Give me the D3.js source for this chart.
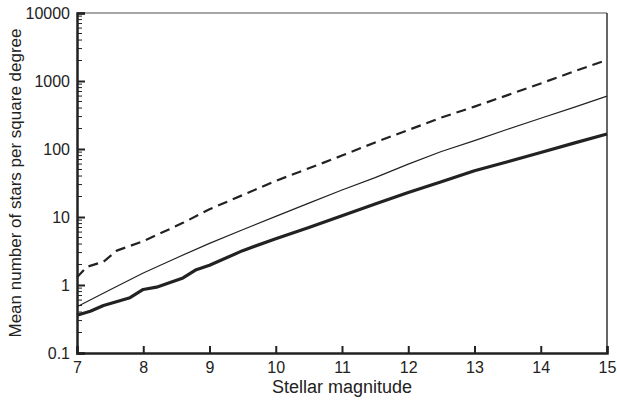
<!DOCTYPE html>
<html>
<head>
<meta charset="utf-8">
<script src="https://cdn.jsdelivr.net/npm/d3@7"></script>
<style>
  body { margin: 0; background: #fff; }
  text { font-family: "Liberation Sans", Arial, sans-serif; fill: #222; }
</style>
</head>
<body>
<svg id="chart"></svg>
<script>
// magnitude vs. mean number of stars per square degree
const dashedMag = [7, 7.15, 7.4, 7.6, 8, 8.3, 8.6, 9, 9.5, 10, 10.5, 11, 11.5, 12, 12.5, 13, 13.5, 14, 14.5, 15];
const dashedVal = [1.3, 1.85, 2.2, 3.2, 4.4, 6, 8.2, 13, 21, 34, 52, 80, 125, 190, 290, 420, 620, 920, 1380, 2040];

const thinMag = [7, 7.5, 8, 8.5, 9, 9.5, 10, 10.5, 11, 11.5, 12, 12.5, 13, 13.5, 14, 14.5, 15];
const thinVal = [0.48, 0.85, 1.5, 2.5, 4.1, 6.5, 10.2, 16, 25, 38, 60, 92, 133, 195, 283, 410, 600];

const thickMag = [7, 7.2, 7.4, 7.8, 8, 8.2, 8.6, 8.8, 9, 9.5, 10, 10.5, 11, 11.5, 12, 12.5, 13, 13.5, 14, 14.5, 15];
const thickVal = [0.36, 0.41, 0.5, 0.65, 0.86, 0.93, 1.27, 1.68, 1.95, 3.2, 4.8, 7.0, 10.4, 15.5, 23, 33, 48, 65, 89, 122, 166];

const xTicks = [7, 8, 9, 10, 11, 12, 13, 14, 15];
const yTicks = [0.1, 1, 10, 100, 1000, 10000];

const width = 617, height = 405;
const margin = {top: 13, right: 10, bottom: 52, left: 77};

const svg = d3.select("#chart")
              .attr("width", width)
              .attr("height", height);

const x = d3.scaleLinear().domain([7, 15]).range([margin.left, width - margin.right]);
const y = d3.scaleLog().domain([0.1, 10000]).range([height - margin.bottom, margin.top]);

// minor log ticks
const minor = [];
for (let e = -1; e < 4; e++) {
    for (let k = 2; k <= 9; k++) minor.push(k * Math.pow(10, e));
}

// frame: top gray, right dark
svg.append("line")
   .attr("x1", x(7)).attr("x2", x(15))
   .attr("y1", y(10000)).attr("y2", y(10000))
   .attr("stroke", "#888").attr("stroke-width", 1.5);
svg.append("line")
   .attr("x1", x(15)).attr("x2", x(15))
   .attr("y1", y(10000)).attr("y2", y(0.1))
   .attr("stroke", "#333").attr("stroke-width", 1.5);

// y axis
const yAxis = svg.append("g")
    .attr("transform", `translate(${x(7)},0)`)
    .call(d3.axisLeft(y).tickValues(yTicks).tickFormat(d3.format("~g")).tickSize(-8).tickPadding(14));
yAxis.select(".domain").attr("stroke", "#222").attr("stroke-width", 2.5);
yAxis.selectAll(".tick line").attr("stroke", "#222").attr("stroke-width", 2);
yAxis.selectAll(".tick text").attr("font-size", 16).attr("x", -7);

svg.append("g")
   .selectAll("line")
   .data(minor)
   .enter()
   .append("line")
   .attr("x1", x(7)).attr("x2", x(7) + 5)
   .attr("y1", d => y(d)).attr("y2", d => y(d))
   .attr("stroke", "#222").attr("stroke-width", 1);

// x axis
const xAxis = svg.append("g")
    .attr("transform", `translate(0,${y(0.1)})`)
    .call(d3.axisBottom(x).tickValues(xTicks).tickFormat(d3.format("d")).tickSize(-7).tickPadding(10));
xAxis.select(".domain").attr("stroke", "#222").attr("stroke-width", 2.5);
xAxis.selectAll(".tick line").attr("stroke", "#222").attr("stroke-width", 2);
xAxis.selectAll(".tick text").attr("font-size", 16).attr("y", 9);

// series
const line = d3.line().x(d => x(d[0])).y(d => y(d[1]));
const series = [
    {mag: dashedMag, val: dashedVal, w: 2.2, dash: "10,6"},
    {mag: thinMag, val: thinVal, w: 1.2, dash: null},
    {mag: thickMag, val: thickVal, w: 3.2, dash: null}
];
svg.append("g")
   .selectAll("path")
   .data(series)
   .enter()
   .append("path")
   .attr("d", s => line(d3.zip(s.mag, s.val)))
   .attr("fill", "none")
   .attr("stroke", "#222")
   .attr("stroke-width", s => s.w)
   .attr("stroke-dasharray", s => s.dash)
   .attr("stroke-linejoin", "round");

// labels
svg.append("text")
   .attr("x", (x(7) + x(15)) / 2)
   .attr("y", 393)
   .attr("text-anchor", "middle")
   .attr("font-size", 18)
   .text("Stellar magnitude");

svg.append("text")
   .attr("transform", `translate(21,${(y(0.1) + y(10000)) / 2}) rotate(-90)`)
   .attr("text-anchor", "middle")
   .attr("font-size", 17)
   .text("Mean number of stars per square degree");
</script>
</body>
</html>
